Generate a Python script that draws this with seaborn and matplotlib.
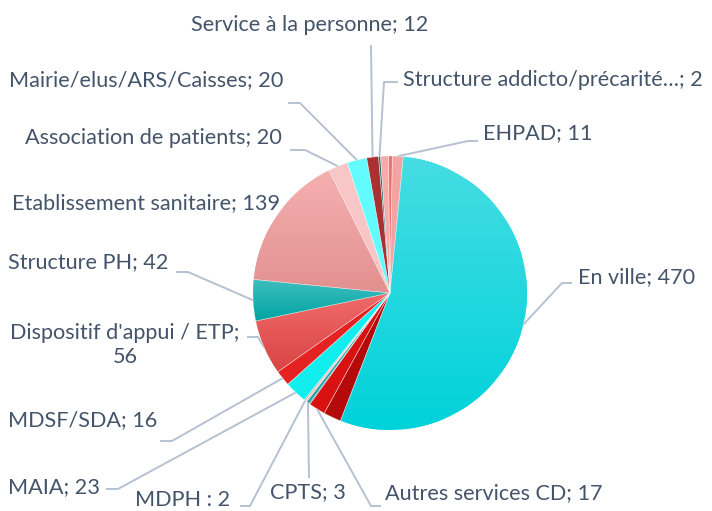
import numpy as np
import matplotlib
matplotlib.use("Agg")
import matplotlib.pyplot as plt
import seaborn as sns
from matplotlib.colors import to_rgb

W, H = 712, 511

# slices, clockwise from the top (Excel order)
categories = ["EHPAD", "En ville", "Autre 1", "Autres services CD", "Autre 2", "CPTS",
              "Autre 3", "MDPH", "MAIA", "MDSF/SDA", "Dispositif d'appui / ETP",
              "Structure PH", "Etablissement sanitaire", "Association de patients",
              "Mairie/elus/ARS/Caisses", "Service à la personne",
              "Structure addicto/précarité…", "Autre 4", "Autre 5"]
values = [11, 470, 18, 17, 1, 3, 1, 2, 23, 16, 56, 42, 139, 20, 20, 12, 2, 8, 4]
colors = ["#F4A3A3", "#20D8DE", "#B50A0A", "#DA1111", "#0C6F6F", "#12A0A0",
          "#EE7A7A", "#F5B5B5", "#12EEEE", "#E42222", "#E65454", "#1EB1B1",
          "#EDA1A1", "#F8C6C6", "#62FCFF", "#A93131", "#1E7070", "#F6AAAA", "#EF7373"]
# vertical gradients (top colour, bottom colour) for the big slices
gradients = {1: ("#46DDE3", "#00D2DA"), 10: ("#F26A6A", "#D84444"),
             11: ("#40BEBE", "#00A4A4"), 12: ("#F6B0B0", "#E29090")}
# data labels shown in the chart ("" = no label)
labels = ["EHPAD; 11", "En ville; 470", "", "Autres services CD; 17", "", "CPTS; 3",
          "", "MDPH : 2", "MAIA; 23", "MDSF/SDA; 16", "Dispositif d'appui / ETP;\n56",
          "Structure PH; 42", "Etablissement sanitaire; 139", "Association de patients; 20",
          "Mairie/elus/ARS/Caisses; 20", "Service à la personne; 12",
          "Structure addicto/précarité…; 2", "", ""]

# label placement in pixels from the top-left: text x, text y, alignment, leader points
layout = {
    0: (483, 133, "left", [(478, 141), (468, 141)]),
    1: (578, 277, "left", [(572, 283), (562, 283)]),
    3: (385, 493, "left", [(381, 506), (371, 506)]),
    5: (270, 492, "left", [(309, 478)]),
    7: (135, 500, "left", [(240, 506), (250, 506)]),
    8: (8, 487, "left", [(106, 489), (118, 489)]),
    9: (8, 420, "left", [(160, 441), (172, 441)]),
    10: (125, 345, "center", [(247, 337), (258, 337)]),
    11: (168, 262, "right", [(176, 272), (188, 272)]),
    12: (280, 203, "right", []),
    13: (282, 138, "right", [(290, 150), (305, 150)]),
    14: (283, 80, "right", [(288, 103), (300, 103)]),
    15: (310, 25, "center", [(371, 45)]),
    16: (403, 80, "left", [(398, 82), (384, 82)]),
}

sns.set_theme(style="white")
plt.rcParams["font.family"] = ["Lato", "DejaVu Sans"]

fig = plt.figure(figsize=(W / 100, H / 100), dpi=100)
ax = fig.add_axes([0, 0, 1, 1])

cx, cy, R = 390, H - 293, 137
wedges, _ = ax.pie(values, colors=colors, startangle=89, counterclock=False,
                   center=(cx, cy), radius=R, wedgeprops=dict(linewidth=0))

# gradient fills clipped to the wedges
for i, (c1, c2) in gradients.items():
    w = wedges[i]
    bb = w.get_path().get_extents()
    t = np.linspace(0, 1, 256)[:, None]
    img = (1 - t) * np.array(to_rgb(c1)) + t * np.array(to_rgb(c2))
    im = ax.imshow(img[:, None, :], extent=(bb.x0, bb.x1, bb.y0, bb.y1),
                   origin="upper", aspect="auto", zorder=2)
    im.set_clip_path(w)

# thin separators
for w in wedges:
    ax.add_patch(plt.Polygon(w.get_path().vertices, closed=True, fill=False,
                             edgecolor="white", linewidth=0.4, alpha=0.5, zorder=3))

line_col = "#B6C1D1"
text_col = "#44546A"
for i, (tx, ty, ha, pts) in layout.items():
    w = wedges[i]
    mid = np.deg2rad((w.theta1 + w.theta2) / 2)
    ex, ey = cx + R * np.cos(mid), cy + R * np.sin(mid)
    if pts:
        xs = [p[0] for p in pts] + [ex]
        ys = [H - p[1] for p in pts] + [ey]
        ax.plot(xs, ys, color=line_col, lw=1.4, zorder=1, solid_capstyle="butt")
    ax.text(tx, H - ty, labels[i], ha=ha, va="center", fontsize=15.6,
            color=text_col, multialignment="center", linespacing=1.2)

ax.set_xlim(0, W)
ax.set_ylim(0, H)
ax.axis("off")

fig.savefig("out.png", dpi=100)
